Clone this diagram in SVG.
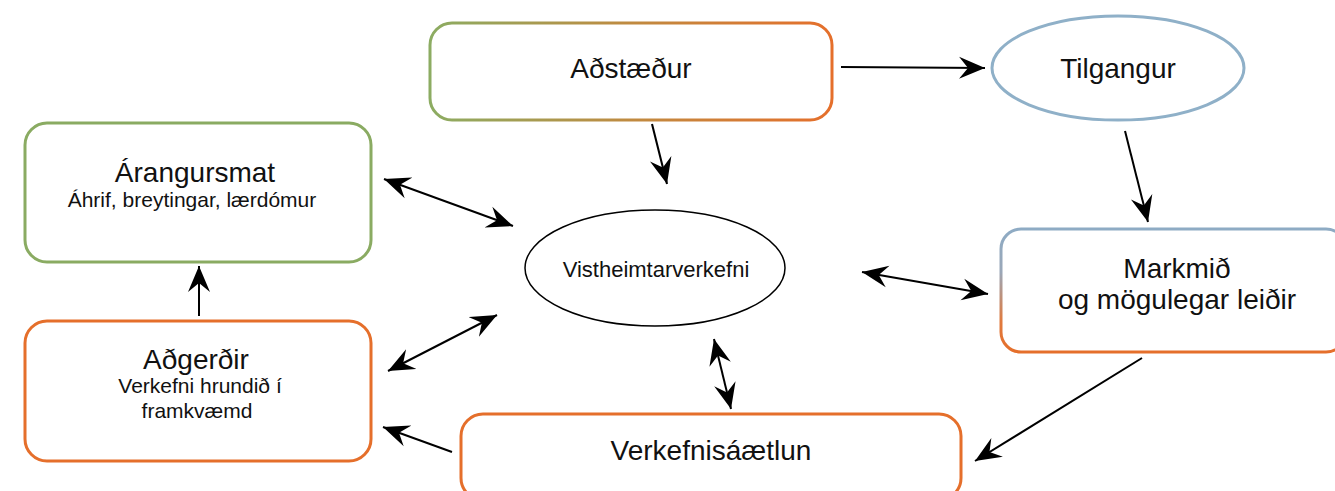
<svg xmlns="http://www.w3.org/2000/svg" width="1335" height="491" viewBox="0 0 1335 491">
  <style>
    text { font-family: "Liberation Sans", Arial, sans-serif; fill: #111; text-anchor: middle; }
    .big { font-size: 28px; }
    .mid { font-size: 22px; }
    .small { font-size: 21px; }
    .box { fill: #fff; stroke-width: 3; }
    .edge { fill: none; stroke: #000; stroke-width: 2; }
  </style>
  <defs>
    <linearGradient id="gradGreenOrange" gradientUnits="userSpaceOnUse" x1="430" y1="0" x2="832" y2="0">
      <stop offset="0" stop-color="#8cac62"/>
      <stop offset="0.5" stop-color="#c08a40"/>
      <stop offset="1" stop-color="#e56f2b"/>
    </linearGradient>
    <linearGradient id="gradBlueOrange" gradientUnits="userSpaceOnUse" x1="0" y1="229" x2="0" y2="352">
      <stop offset="0" stop-color="#8eabc4"/>
      <stop offset="0.35" stop-color="#9aa7b8"/>
      <stop offset="0.75" stop-color="#e07a3e"/>
      <stop offset="1" stop-color="#e56f2b"/>
    </linearGradient>
    <marker id="head" viewBox="-26 -12 28 24" refX="0" refY="0" markerWidth="28" markerHeight="24" markerUnits="userSpaceOnUse" orient="auto-start-reverse">
      <path d="M0,0 L-26,-11 L-17,0 L-26,11 Z" fill="#000"/>
    </marker>
  </defs>

  <!-- nodes -->
  <g id="node-adstaedur">
    <rect class="box" x="430" y="23" width="402" height="97" rx="22" stroke="url(#gradGreenOrange)"/>
    <text class="big" x="631" y="78">Aðstæður</text>
  </g>
  <g id="node-tilgangur">
    <ellipse class="box" cx="1118" cy="68" rx="126" ry="52" stroke="#8fb0c8"/>
    <text class="big" x="1118" y="78">Tilgangur</text>
  </g>
  <g id="node-arangursmat">
    <rect class="box" x="25" y="123" width="346" height="139" rx="22" stroke="#8aab62"/>
    <text class="big" x="195" y="182">Árangursmat</text>
    <text class="small" x="192" y="207">Áhrif, breytingar, lærdómur</text>
  </g>
  <g id="node-vistheimtarverkefni">
    <ellipse cx="655" cy="268" rx="130" ry="58" fill="#fff" stroke="#000" stroke-width="1.5"/>
    <text class="mid" x="656" y="277">Vistheimtarverkefni</text>
  </g>
  <g id="node-markmid">
    <rect class="box" x="1001" y="229" width="345" height="123" rx="20" stroke="url(#gradBlueOrange)"/>
    <text class="big" x="1177" y="278">Markmið</text>
    <text class="big" x="1177" y="309">og mögulegar leiðir</text>
  </g>
  <g id="node-adgerdir">
    <rect class="box" x="25" y="321" width="346" height="140" rx="22" stroke="#e56f2b"/>
    <text class="big" x="196" y="369">Aðgerðir</text>
    <text class="small" x="200" y="393">Verkefni hrundið í</text>
    <text class="small" x="197" y="418">framkvæmd</text>
  </g>
  <g id="node-verkefnisaaetlun">
    <rect class="box" x="461" y="414" width="500" height="86" rx="22" stroke="#e56f2b"/>
    <text class="big" x="711" y="460">Verkefnisáætlun</text>
  </g>

  <!-- connectors -->
  <g id="connectors">
    <line class="edge" x1="841" y1="67" x2="985" y2="68" marker-end="url(#head)"/>
    <line class="edge" x1="652" y1="124" x2="667" y2="184" marker-end="url(#head)"/>
    <line class="edge" x1="1125" y1="131" x2="1148" y2="222" marker-end="url(#head)"/>
    <line class="edge" x1="1142" y1="358" x2="975" y2="461" marker-end="url(#head)"/>
    <line class="edge" x1="452" y1="452" x2="383" y2="427" marker-end="url(#head)"/>
    <line class="edge" x1="199" y1="316" x2="199" y2="266" marker-end="url(#head)"/>
    <line class="edge" x1="384" y1="179" x2="513" y2="226" marker-start="url(#head)" marker-end="url(#head)"/>
    <line class="edge" x1="388" y1="371" x2="497" y2="315" marker-start="url(#head)" marker-end="url(#head)"/>
    <line class="edge" x1="862" y1="272" x2="988" y2="294" marker-start="url(#head)" marker-end="url(#head)"/>
    <line class="edge" x1="714" y1="339" x2="731" y2="409" marker-start="url(#head)" marker-end="url(#head)"/>
  </g>
</svg>
